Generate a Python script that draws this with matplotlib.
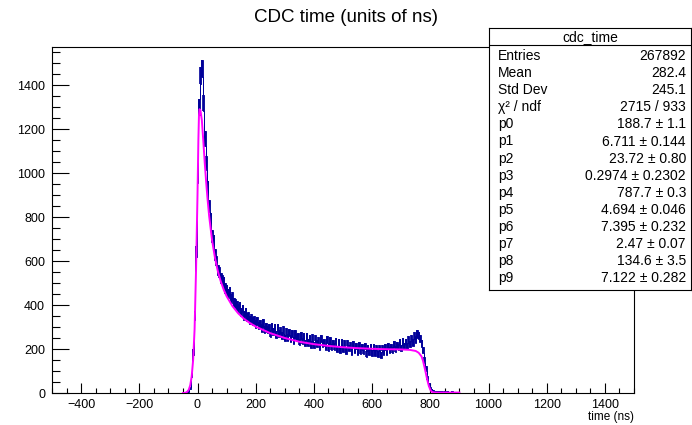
import matplotlib
matplotlib.use("Agg")
import matplotlib.pyplot as plt
from matplotlib.ticker import MultipleLocator
import numpy as np

plt.rcParams['font.family'] = ['Liberation Sans', 'DejaVu Sans']

# histogram contents (counts per 1 ns bin), read every 5 ns from -50 to 900
t_start, t_step = -50, 5
counts = [
    0, 0, 1, 2, 5, 22, 82, 188, 352, 645,
    985, 1300, 1445, 1475, 1320, 1155, 1045, 935, 850, 790,
    715, 690, 628, 600, 560, 548, 522, 512, 505, 478,
    470, 452, 462, 430, 438, 412, 408, 398, 384, 396,
    368, 382, 352, 366, 344, 349, 332, 341, 326, 331,
    312, 326, 307, 315, 296, 318, 289, 303, 288, 296,
    272, 301, 280, 295, 266, 298, 270, 284, 262, 286,
    250, 279, 254, 276, 246, 270, 240, 268, 251, 255,
    232, 262, 236, 255, 228, 258, 230, 246, 220, 252,
    218, 250, 224, 240, 210, 246, 226, 230, 208, 243,
    206, 238, 209, 228, 212, 236, 200, 230, 198, 232,
    200, 226, 193, 228, 204, 215, 188, 222, 197, 214,
    186, 218, 190, 210, 191, 213, 178, 206, 186, 209,
    180, 210, 181, 203, 176, 205, 172, 204, 186, 208,
    186, 214, 196, 210, 195, 222, 200, 218, 208, 230,
    206, 234, 213, 232, 214, 242, 223, 246, 230, 260,
    242, 268, 262, 246, 224, 194, 150, 112, 68, 38,
    22, 14, 10, 8, 7, 6, 5, 6, 5, 4,
    5, 4, 5, 4, 4, 5, 4, 3, 4, 3,
    3,
]

# fit function
fit_t = [-50, -45, -40, -35, -30, -25, -20, -15, -10, -5, 0, 3, 5, 7, 10,
         15, 20, 25, 30, 35, 40, 50, 60, 70, 80, 90, 100, 120, 140, 160,
         180, 200, 250, 300, 350, 400, 450, 500, 550, 600, 650, 700, 730,
         750, 760, 770, 775, 780, 785, 790, 795, 800, 805, 810, 820, 850, 900]
fit_v = [0, 0, 2, 6, 15, 35, 75, 150, 290, 560, 900, 1150, 1260, 1290, 1285,
         1240, 1145, 1045, 955, 875, 805, 695, 615, 553, 507, 470, 440, 395, 362, 337,
         318, 302, 272, 250, 233, 222, 214, 208, 204, 201, 199, 198, 196,
         191, 183, 166, 146, 118, 88, 57, 32, 15, 6, 3, 2, 2, 2]

stat_names = ["Entries", "Mean", "Std Dev", "χ² / ndf", "p0", "p1", "p2", "p3",
              "p4", "p5", "p6", "p7", "p8", "p9"]
stat_values = ["267892", "282.4", "245.1", "2715 / 933", "188.7 ± 1.1",
               "6.711 ± 0.144", "23.72 ± 0.80", "0.2974 ± 0.2302", "787.7 ± 0.3",
               "4.694 ± 0.046", "7.395 ± 0.232", "2.47 ± 0.07", "134.6 ± 3.5",
               "7.122 ± 0.282"]

t = t_start + t_step * np.arange(len(counts))
y = np.array(counts, dtype=float)
err = np.sqrt(y)

fig = plt.figure(figsize=(6.92, 4.25), dpi=100)
ax = fig.add_axes([52 / 692, 32 / 425, 582 / 692, 346 / 425])

# error band of the 1 ns bins (drawn as a solid stepped band) plus bar per bin
ax.fill_between(t, y - err, y + err, step='mid', color='#000099', lw=0.6, zorder=2)
ax.errorbar(t, y, yerr=err, fmt='none', ecolor='#000099', elinewidth=1.2,
            capsize=0, zorder=2)
ax.plot(fit_t, fit_v, color='#ff00ff', lw=1.4, zorder=3)

ax.set_xlim(-500, 1500)
ax.set_ylim(0, 1573)
ax.xaxis.set_major_locator(MultipleLocator(200))
ax.xaxis.set_minor_locator(MultipleLocator(50))
ax.yaxis.set_major_locator(MultipleLocator(200))
ax.yaxis.set_minor_locator(MultipleLocator(50))
ax.tick_params(axis='x', which='major', direction='in', length=7, width=0.8, labelsize=9, pad=4)
ax.tick_params(axis='x', which='minor', direction='in', length=3.5, width=0.8)
ax.tick_params(axis='y', which='major', direction='in', length=12, width=0.8, labelsize=9, pad=5)
ax.tick_params(axis='y', which='minor', direction='in', length=6, width=0.8)
for s in ax.spines.values():
    s.set_linewidth(0.8)

fig.text(346 / 692, 1 - 18 / 425, "CDC time (units of ns)", ha='center', va='center', fontsize=13.5)
fig.text(634 / 692, 1 - 417 / 425, "time (ns)", ha='right', va='center', fontsize=8.5)

# stats box
sb = fig.add_axes([489 / 692, 1 - 290 / 425, 202 / 692, 262 / 425], zorder=5)
sb.set_xlim(0, 1)
sb.set_ylim(290, 28)
sb.set_xticks([])
sb.set_yticks([])
for s in sb.spines.values():
    s.set_linewidth(0.8)
sb.axhline(45, color='black', lw=0.8)
sb.text(0.5, 37, "cdc_time", ha='center', va='center', fontsize=10)
for i, (n, v) in enumerate(zip(stat_names, stat_values)):
    yy = 56 + i * 17.1
    sb.text(0.045, yy, n, ha='left', va='center', fontsize=10)
    sb.text(0.975, yy, v, ha='right', va='center', fontsize=10)

fig.savefig("out.png", dpi=100)
